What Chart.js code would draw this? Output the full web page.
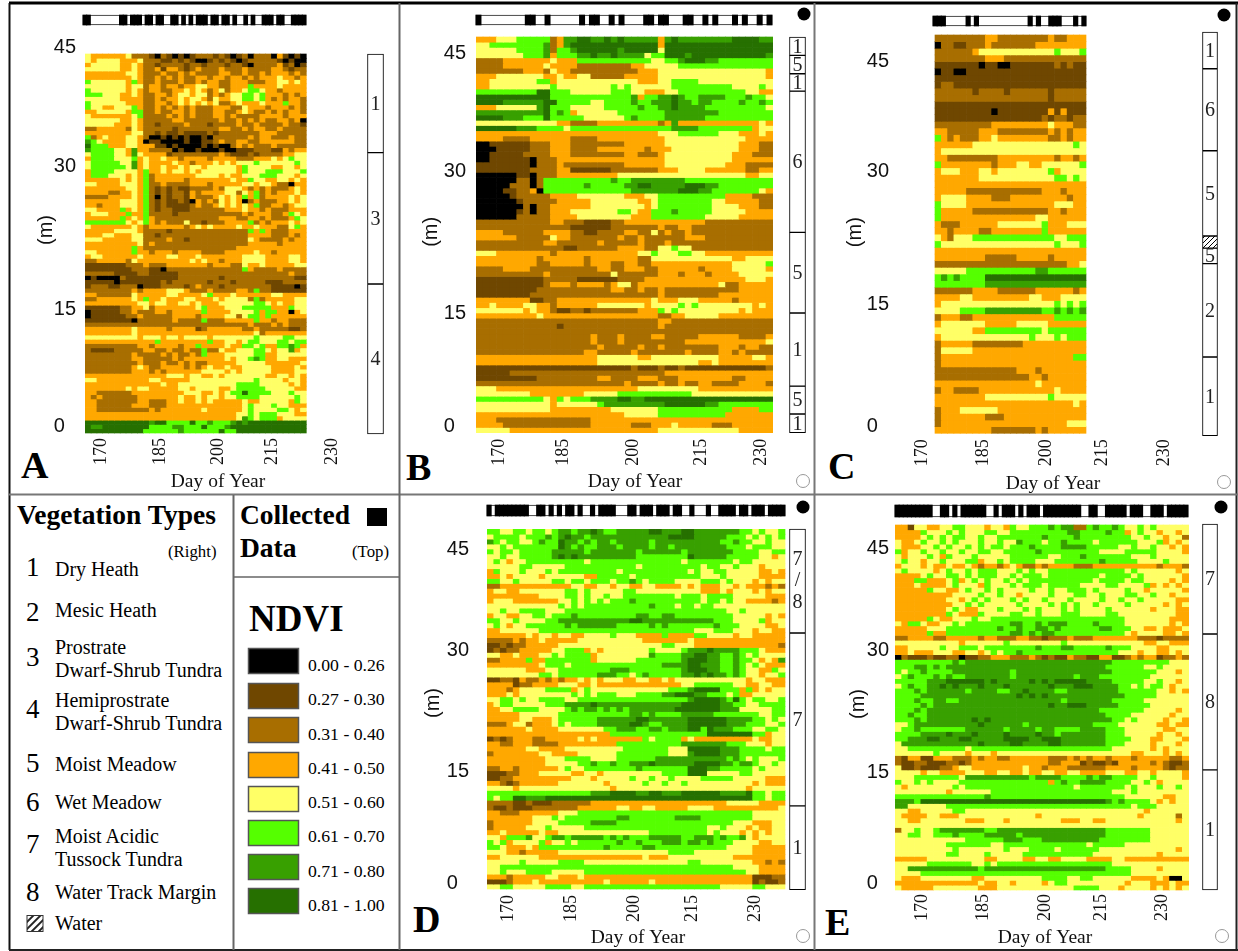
<!DOCTYPE html>
<html>
<head>
<meta charset="utf-8">
<title>NDVI by day of year</title>
<script src="https://cdn.jsdelivr.net/npm/chart.js@4"></script>
<style>
  html, body { margin: 0; padding: 0; background: #fff; }
  #page { position: relative; width: 1238px; height: 951px; overflow: hidden; }
  #page svg { position: absolute; left: 0; top: 0; }
  #page canvas { position: absolute; }
  svg text { font-family: "Liberation Serif", serif; fill: #000; }
</style>
</head>
<body>
<div id="page">
<svg id="frame" width="1238" height="951"></svg>
</div>
<script>
// NDVI classes, one colour per digit used in the rows below
const ndviRanges = ['0.00 - 0.26', '0.27 - 0.30', '0.31 - 0.40', '0.41 - 0.50', '0.51 - 0.60', '0.61 - 0.70', '0.71 - 0.80', '0.81 - 1.00'];
const ndviColors = ['#000000', '#6f4700', '#a86e00', '#ffa800', '#ffff66', '#55ff00', '#38a000', '#267000'];

const vegetationTypes = [
  ['1', ['Dry Heath']],
  ['2', ['Mesic Heath']],
  ['3', ['Prostrate', 'Dwarf-Shrub Tundra']],
  ['4', ['Hemiprostrate', 'Dwarf-Shrub Tundra']],
  ['5', ['Moist Meadow']],
  ['6', ['Wet Meadow']],
  ['7', ['Moist Acidic', 'Tussock Tundra']],
  ['8', ['Water Track Margin']]
];

const dayLabels = ['170', '185', '200', '215', '230'];
const metreLabels = ['0  ', '15', '30', '45'];

// rows run top to bottom of each panel
const rowsA = [
'43333334222102101012221210120222031010','43444433342221121210012121012222210100','34444433432212222122122212210222231201',
'44444433432231332123222322232222332122','33333334432223223232222332232232333232','33333333432232323223323323323233343323',
'54444443532232223223233223332223344343','44444443442332332334433223335333343333','54444443432332233434323423345543323333',
'55544433432233234434423234455453332323','44444433332232334344324334455453232332','54444443332233234343434223433343335332',
'54433444532232323232223332243332333232','33444443552232233232223322343223232332','43333333452222323232223323222233332333',
'44444433432222233222222322323232233230','44444333432212222322212222322322223221','22333332432222212222222332232332232222',
'33333333442212112111121222222233322222','52343334432001010100102222223233222322','65433334430110000100112322332233333322',
'75553334433311010000101002323222322222','65555443633222201001000100111222113233','45555443643333122222222321112122223344',
'35555444534334332333323333222333434544','45555544634333343323334343444544444454','45555554634334334344344444354444334434',
'35555444435334344343444444354445554445','35554443435233333334444343344455544434','33333343435233333233333334335443344343',
'44333344435223222233323333344344322033','33333334435212121122223244432323222343','33332233435212122132333344243523233343',
'22223333435202122132223434353523333434','33333344435212112103232434302322233434','33233344435212111123223434343522332344',
'44333353435212211122222233343323222333','34443335335222212222222222232333223543','33333353435322222222222333223323222354',
'55555554345323222422122233335232333434','43333333432333333234343333433433322453',
'33333444432222122222222222225353222333','33344333442212222222222222223333222323','44433333442222322122222222224322223233',
'33333333342322222222222222223333323333','33333333532222222222222222333333333333','44333333533233323333222233333433233333',
'34433333343333443334333333344443333443','22333332433333333343433233344443333443','11111112223222333333323332243343333344',
'11111111222110222222222222253222232222','22222111122111112222222222222222222322','01000021111111112222222122222222222211',
'11111011111112122222212221222221112222','12221122201112222123222122222222111101','22222222323333444322232222332522111111',
'33222222433333443333453334333333443333','22333333435334333443334344442523333344','33333333344344334434333444444554343344',
'11111122334233333334533344455555333544','01111122322233233333533334444535533034','01111112232222233332333344245535333333',
'11111111022222232222522233333533233222','22222222222222222222222222223222323222','33333333433333233331233333322322222112',
'33333333433333333333333333333423333333','44444444434443443444434444444544445544','33333333333353333333353344345544455455',
'22222222233233332335333343355453355653','21111222223322322322522433444554344634','22222222322223232232533344444553344444',
'22222222332222232333333343445653344333','22222222232223223232233333444443333334','22222222343223333232343343344444333343',
'22222222333232333333444434344444333344','33333333333333444344334344444443344343','44333333333443333344444444444544443443',
'33333333333334334444444444555544444343','33333334344333334434444334555554444433','33222222333333333444334345575555444544',
'32322222233333334334344344555544444454','33222222233222334334343333343344444354','33222222333222333333333333345444544333',
'33222222222323333333433333345444455434','33333333333333333333333333445455544433','33333333333333333333333333465455534444',
'77777777777677555575565556767777777777','76677777777555566555755567777777777777','77777777775555556555555755777777777777'
];

const rowsB = [
'33344455555236677667676666636766666666777766','44555555556236777777777777737777777777777777','44444455556255677777767777747777777777777777',
'44444445556355566766766664557776777777777776','22223333333433355555555555445567776655555555','22223333334333322222222334444455555555555555',
'22222223332433222222222233344444444444444443','33344444443343344222223333344444444444444443','33444444455344444444444433344555544444444444',
'33444444444544444444545444444555555555444454','55555555577555444444555443334455555555554433','77777777777555555555555635566765566665556554',
'77776666667755555445555655666766566555565565','33344444467555444445555565566766665555555554','66666666667565344444455555556666666655555555',
'77776665557555554444445655556666665555555555','44444444444433222233333333323633333333333343','77777766655554555555555555555666655555555344',
'33333333333333333333333333344455555544433343','33332222333333222233333333334444444444443333','00111111222333222222223333334444444444433322',
'00011111222333222233333332333444444444433322','00111112222333222222223322234444444444333222','00111111022233333333333333334444444444333333',
'11111111022232222222223333334444444443332222','11111111222233111111222222233344443333332233','00000011022233333333344444444444444444443344',
'00000022025555555555655666666665555555555555','00000222025555556555556677666667776655555555','00001122305555555555555666666677766555555543',
'00000122222333344444443334455555555553333222','00000012222233333444444433455555555443333322','00000002022333333444444443455555555444433322',
'00000012022333444444455433555655555444443333','00000022222333344444444333555555554444433333','22222222222332221111223333333333332222222222',
'22222222222222111111222222232233222222222222','33332222223333221122223322423223222222222222','33333322222433222222232232222223332222222222',
'22222222223322222232222232223222222222222222',
'22222222222221122222233332244544222222222222','44433333333233333333333344544455443333333333','33333333323333332333333322444444444444334444',
'33333333322333332333223322333333333333444445','22223333222222222233223332233333323333444443','22222222223222222222422222233323332333344444',
'11111111112222211111122223333333333333334443','11111111112333233332344233333333333342233333','11111111122222222222332232232222222222233333',
'11111111222222222222222222232222222233333333','33333333112233333333333333433344433333233333','33433334433233333344444443444454544444444343',
'44444443433211221222222233354544444444434333','33333333343333333333333333322334444433333333','22222222222222222222222222233222222222222222',
'22222222222212222222222222232222222222222222','22222222222222222222222222222222222222222222','22222222222222222322232222332222233333322223',
'22222222222222222322232222222223333333333334','22222222222222222232222232232222222233323322','22222222222222223322222322222223222233232222',
'33333333333333333344444433444444444433333443','33333333333333333344444444444444433433333333','11111111111111111111111211121121111111111112',
'11111222222222222222222222223333333333333333','11111111122222222233222233322233333333223333','22222222222222222222223222232232233222233332',
'44433333333333333333333344444444433333333333','44444444333333334444455555555555444444444444','55555555554354555666677667777777777777777777',
'44444444444344444456666666667777776655555555','44444444444333333333444444455555555555333355','33333333333333333333334444455555555553333333',
'33322222222222222333333333333333333333333333','33332222222222222333333222333433333222333333','44444333333333333333333333344444444444433333'
];

const rowsC = [
'222222223322222222322333','022112223222222233333333','222222344444444444454445','222222223332222222222222',
'111111101100111111121211','011001111111111111111111','111111111111111111111111','122111111111111111111111',
'222222122221222222122222','222222222222222222122222','111111111111111111111111','111111111011111111313111',
'111111111111111112122122','222222222333333333433322','332222233322222222323233','532322233433333333223233',
'333333444444444444444454','344444444444444444444444','332222222233333333323323','533333333233344334444445',
'344433344344444444534444','333333344444444444455454','333333333333333333333333','333332222222222223332333',
'344443333222333333333233','544443333333333333344433','533333222222222222332333','533333333333333344333333',
'322233333344444445333444','332333322333333335333333','432444555555555555544555','544444444444444444454445',
'333333333333333333333333','333333332222233333233333','222222222222222222222334','444445555555555566555555',
'565655557777777777777777','555555556666666666666666','222222333322222233333323','333344333333333443334444',
'344444444444444444454545','444455556666666665565656','233322333333333333355555','344444443333344444333333',
'444444335555555554555555','344444444444444544454555','233333222222223333333333','244444333333333333333333',
'233333333333333333333355','233333333333333333333333','222222222222233323333333','222222222222222332333333',
'333333333333333343333333','233222233333333333343333','333333334444444444544444','333333333333333333333343',
'233344444433333333333333','233333332223333333333333','233333333333333333333444','333333333222222232333333'
];

const rowsD = [
'5544554554566566765566666776667766666665545445','4555545556567665666666666666777766666555454545','6545544565576656566566666566666666665565544544',
'4454555555576565566656666566566666666555455544','5455455555666665666666656666665666666655554455','4454455555676766666666655555555766666555554434',
'4543445555555554555555555555554555555545544444','4444455444445555555555545555555554554454443444','3544454445455555555545555555555454455444443343',
'3343444434444443355555455555555554445444443333','5544544444554554555455654555544445554544434344','2233333333333443344344334433334343334434333232',
'3443344444445545444445544444444443334344434344','3333333344445545445445555555545554555544444333','3444333333344545454555655555555554554544333323',
'4444444444454545555555555655545545544444444444','4454455554445555555555555555555555555445444444','3443344554555655555555566556655555555544444343',
'5544544445566666666666776666666666655544445344','4543445555556566666655555656555555565554444334','3344444455555555555555555555555544455544434433',
'3333334344344334444544433335333355444434433333','2222323343333344444444443333333433333333333333','1121223333344444444444444445544433333333333332',
'1212233333445553434444444544445666766665554333','4433433344545555344444444655556677665565454444','2233335335555555344444455555556777665565543436',
'3333333345554555555555555556666776665565454333','4444443334455555555666555555556777665565443354','4444444455455555566655456555556676766565443445',
'1122132232323343434443344334344444444444344333','3333122333344433433333333333334455555544334433','3332344445555345444444444444555677775553534344',
'3334344444444545455544455556677766555453344444','4455454455554455555555555555555677776575455445','3455444445556666766666666666667777776655445555',
'3344555544445656656565666666677777776664444455','3333344444455555555555665655556666655555554455',
'3333344333455555566666677666666777777666655454','2223442333454555566666776556666777777666555445','3333334333344444445566655665666775766655544554',
'3333333333333333333555555555555555777777755344','1212333223333343433333335455553433333333343344','3322333222233333333355555555556666666555444344',
'3333334433334444444445555555444777776665555455','2333333344333344444455555555444677776665555555','3333333334445555444455555566666666666565454445',
'3333333334444455655655666766666677776656654454','2233233333345445555555565555555777665555545444','1112233344444334434444444445555777444445544444',
'1122333333333444344444544544544445555544444333','3321233333344444443444445445445444444444434333','4444344444444444444344444444444444444444344444',
'5555555555555555666777766776667777776666755455','5455776667777777777777777777777777777777755455','2222112111222222333333333333333333333444443333',
'2112111222222233333344334433333444433333333334','3322233333344455555555555555555555555555544444','3333333444545555555566555555566665555555544444',
'2333333444455555666655555555555555555544433344','2333334445444445555555555555555555445444343344','3343333343344444444444444555555555454443434344',
'4435556445665666665656555666665566656556434444','5453444453445455555565565556665665655544443344','5543334355555555556555556655555555555444433333',
'4443323333344444444444444444555544444444433333','3344444433333333333333334333444444444433333333','4444454444455554444444444444444554444444433232',
'4455555555555555555555555555555555555544443333','4454445555444445555555555555555555555555443333','3332333334433343333333333333333333333333311122',
'1112333433333333334333333433333333333333312112','4455444445555445555555555555555555554444455444'
];

const rowsE = [
'3314433445544434435445556566225655654454544444','3333544454544455445555555556655556553454434434','3333454545544544555555565555655555555445443442',
'4334544545444544544655545565555455555544453434','4333445454454545545556555566665555544544544343','5344544544544554455555655555555544445555544443',
'4344454354445444445555554455565555555444544444','4544344544455344545555444555555565555544445444','3444343343343233234322323333222333333333323332',
'4544443454454555444545445555555555554544444434','3333454455454555445455545555555545555454444443','3335533345345454454545555555555455554554444343',
'3334333345444354445455545555544445544445343434','3333354433454454544445445445554544445443444443','3333333334444544544344445444554454445544544344',
'3333333344345454445454454445444454454454444433','3333333334454544444544445454544544445444443434','3333333345433444544454544454544445444444344433',
'3333333354333544445544544455544445544444444433','3333354334445445555555555555555555554444444333','4355433445455555556655656665555655554444444343',
'3333344455555555655655665655555566555443343334','3333353355555555556656566555555555554344443343','2233332233333233222332212223222333333322212222',
'4444444444344444454444444454444444444443344333','3344444544555455555555655566555556555444433444','3343334443344345455655555555555555544434433434',
'0211121122011223332223212113221133112323312232','5555555556566666666666666666666666555555555444','5556656566666666666666666666666665555554454444',
'5455655556666666665666666666666666555555544434','4565556565566666665666666666566655555555444444','5555566677777767666667676777776666555554454434',
'4565566767666766676666667666777666655454554344','5556566666656666556676666556666666655555544343','5555666666666666666767676666666666665555544444',
'5556556655666666666666666656666666555554444444','5555656666666666666666667667776666655555444444','5556566666666666666666666666666655555554444434',
'5565566666666666666666666666666665555444444344','5556566666667676666666666666666666554544443443','4456666666666766666656666666666555544444433433',
'4556555555566666656666566555566665554444443344','5555666676667666676666766566666665554444434434','5566677666776666677776677766666665555444334443',
'4666666666666766667766667766666665554444344434','4455555555545555555555555555555555444444343444','4444445444434443444444444444444444444334443434',
'2133113332223233223333332223232332333233333223','2112211122123333333333332233312112133333232112','4112111223443333333343323332222223333233332122',
'4444344333344433443343344334433334443344344443','4445555555466666666665666655556566555544544443','5445454444555555555555553565566665555445434444',
'4344444445455555555555555555455555554544454454','4444444434444445555555555555555555444544444444','5555555555555565555555555555555555554444443344',
'6665777777777777777777777777777776565555434344','6644444455555555555555555555555555555455544444','4433444445544444444444444444444444444443444444',
'4333344333444444444444344444444444444434444424','4433444444433344434444444433344334444444444434','4444444444444444444444444444444444444444444444',
'2445445666666655666666666666666665555555444444','4455445556555566666566666666666665555555444444','4444444444455555566655566666666655555555444444',
'4444444455555554455555555555554555554444444444','4444444445444444454445555455555544444444444434','4444444455444454444455555555555444444444434444',
'3333344444444433444433443344443333443333333333','4444455555554454555555555555555555444444444444','4466666666666566666666666666666665555444434444',
'4444555555555555555555555555555555555444444444','4333444444443344444444455554455444444333343004','3333333333333433443444434554444444443444333433',
'4333334444444333444444444444555544434444343434'
];

// days with collected data, left to right along the top bar
const collectedA = '110000000011011101101100110101011101101101001010011101100' + '1111';
const collectedB = '100000000011001000000101100101000011011000110010100010100101';
const collectedC = '1110000010100000000000010100111000101';
const collectedD = '101111111100110101011010010111100011011101110110010001001111011011101111';
const collectedE = '11111111100110101111110010111010111011111111100110011111011100111011111';

// vegetation strip, edges in metres from the bottom, labels for the segments between them
const vegEdgesA = [-0.1, 17.7, 33.3, 45];
const vegLabelsA = ['4', '3', '1'];
const vegEdgesB = [0, 2.25, 5.6, 14.4, 24.1, 41.1, 43.2, 45.4, 47.6];
const vegLabelsB = ['1', '5', '1', '5', '6', '1', '5', '1'];
const vegEdgesC = [-0.3, 9.4, 20.9, 22.8, 24.3, 34.8, 44.9, 49.4];
const vegLabelsC = ['1', '2', '5', 'water', '5', '6', '1'];
const vegEdgesD = [-0.1, 11.2, 34.5, 48.5];
const vegLabelsD = ['1', '7', '7/8'];
const vegEdgesE = [0, 16.2, 34.5, 49.3];
const vegLabelsE = ['1', '8', '7'];

// where the printed tick labels actually sit, the originals are not evenly spaced
const dayTickAtA = [170, 185.1, 200, 213.9, 229.3];
const dayTickAtB = [170, 184.5, 200.4, 215.9, 229.5];
const dayTickAtC = [170, 184.9, 200.3, 214, 229.1];
const dayTickAtD = [170, 185.3, 200.5, 214.6, 229.8];
const dayTickAtE = [170, 184.9, 200, 213.7, 228.5];
const metreTickAtA = [0.75, 14.7, 31.7, 45.8];
const metreTickAtB = [0.72, 14.4, 31.4, 45.6];
const metreTickAtC = [0.9, 15.9, 32.3, 45.8];
const metreTickAtD = [0.77, 15.8, 32.2, 45.8];
const metreTickAtE = [0.94, 15.9, 32.3, 46];

const serif = '"Liberation Serif", serif';
const sans = '"Liberation Sans", sans-serif';

function hatchPattern() {
  let c = document.createElement('canvas');
  c.width = 5; c.height = 5;
  let g = c.getContext('2d');
  g.fillStyle = '#fff';
  g.fillRect(0, 0, 5, 5);
  g.strokeStyle = '#000';
  g.lineWidth = 1;
  g.beginPath();
  g.moveTo(-1, 6); g.lineTo(6, -1);
  g.moveTo(-1, 1); g.lineTo(1, -1);
  g.moveTo(4, 6); g.lineTo(6, 4);
  g.stroke();
  return g.createPattern(c, 'repeat');
}

function drawPanel(p) {
  let canvas = document.createElement('canvas');
  canvas.width = p.box[2];
  canvas.height = p.box[3];
  canvas.style.left = p.box[0] + 'px';
  canvas.style.top = p.box[1] + 'px';
  document.getElementById('page').appendChild(canvas);

  let dayOf = px => p.leftDay + (px - p.heatL) / p.pxPerDay;
  let metreOf = py => (p.heatB - py) / p.pxPerM;
  let rightDay = dayOf(p.heatR);
  let topMetre = metreOf(p.heatT);
  let heatW = p.heatR - p.heatL;

  let datasets = [];

  // vegetation strip on the right
  let vegX = dayOf((p.vegL + p.vegR) / 2);
  let vegBars = [], vegFill = [];
  p.vegLabels.forEach((label, i) => {
    vegBars.push({ x: vegX, y: [p.vegEdges[i], p.vegEdges[i + 1]] });
    vegFill.push(label === 'water' ? hatchPattern() : '#fff');
  });
  datasets.push({ label: 'Vegetation type', data: vegBars, backgroundColor: vegFill, borderColor: '#000', borderWidth: 1,
    borderSkipped: false, barThickness: p.vegR - p.vegL, grouped: false, clip: false });

  // collected data bar on the top
  let stripLo = metreOf(p.stripB), stripHi = metreOf(p.stripT);
  let stripDayL = dayOf(p.stripL), stripDayR = dayOf(p.stripR);
  let step = (stripDayR - stripDayL) / p.collected.length;
  let marks = [];
  for (let i = 0; i < p.collected.length; i++) {
    if (p.collected[i] === '1') marks.push({ x: stripDayL + (i + 0.5) * step, y: [stripLo, stripHi] });
  }
  datasets.push({ label: 'Collected data', data: marks, backgroundColor: '#000',
    barThickness: step * p.pxPerDay + 0.4, grouped: false, clip: false });
  datasets.push({ label: 'Collected frame', data: [{ x: (stripDayL + stripDayR) / 2, y: [stripLo, stripHi] }], backgroundColor: '#fff',
    borderColor: '#222', borderWidth: 1, borderSkipped: false, barThickness: p.stripR - p.stripL, grouped: false, clip: false });

  // one dataset per row of the NDVI grid
  let rowH = topMetre / p.rows.length;
  p.rows.forEach((row, r) => {
    let w = (rightDay - p.leftDay) / row.length;
    let lo = topMetre - (r + 1) * rowH;
    let cells = [], colors = [];
    for (let i = 0; i < row.length; i++) {
      cells.push({ x: p.leftDay + (i + 0.5) * w, y: [lo, lo + rowH] });
      colors.push(ndviColors[Number(row[i])]);
    }
    datasets.push({ label: 'row ' + r, data: cells, backgroundColor: colors, barThickness: heatW / row.length,
      grouped: false, clip: false });
  });

  let titleLine = 24;
  let xTitleLine = 23.4;
  let scaleLeft = p.mX - titleLine / 2;
  let scaleBottom = p.titleY + xTitleLine / 2;

  let vegText = {
    id: 'vegText',
    afterDatasetsDraw(chart) {
      let ctx = chart.ctx;
      let y = chart.scales.y;
      ctx.save();
      ctx.fillStyle = '#222';
      ctx.font = '20px ' + serif;
      ctx.textAlign = 'center';
      ctx.textBaseline = 'middle';
      let cx = (p.vegL + p.vegR) / 2 - p.box[0];
      p.vegLabels.forEach((label, i) => {
        if (label === 'water') return;
        let mid = y.getPixelForValue((p.vegEdges[i] + p.vegEdges[i + 1]) / 2);
        if (label === '7/8') {
          ctx.fillText('7', cx, mid - 21);
          ctx.fillText('/', cx, mid);
          ctx.fillText('8', cx, mid + 22);
        } else {
          ctx.fillText(label, cx, mid + 1);
        }
      });
      ctx.restore();
    }
  };

  new Chart(canvas, {
    type: 'bar',
    plugins: [vegText],
    data: { datasets: datasets },
    options: {
      responsive: false,
      animation: false,
      events: [],
      layout: { padding: {
        left: scaleLeft - p.box[0],
        top: p.plotT - p.box[1],
        right: p.box[0] + p.box[2] - p.plotR,
        bottom: p.box[1] + p.box[3] - scaleBottom
      } },
      plugins: { legend: { display: false }, tooltip: { enabled: false } },
      scales: {
        x: {
          type: 'linear',
          offset: false,
          min: p.leftDay,
          max: dayOf(p.plotR),
          grid: { display: false, drawTicks: false },
          border: { display: false },
          afterBuildTicks: s => { s.ticks = p.dayTickAt.map(v => ({ value: v })); },
          afterFit: s => { s.height = scaleBottom - p.heatB; },
          ticks: {
            autoSkip: false, minRotation: 90, maxRotation: 90, padding: p.xPad, color: '#111',
            font: { family: serif, size: 18 },
            callback: (v, i) => dayLabels[i]
          },
          title: { display: true, text: 'Day of Year', color: '#111', padding: 0, font: { family: serif, size: 19.5, lineHeight: 1.2 } }
        },
        y: {
          type: 'linear',
          min: 0,
          max: metreOf(p.plotT),
          grid: { display: false, drawTicks: false },
          border: { display: false },
          afterBuildTicks: s => { s.ticks = p.metreTickAt.map(v => ({ value: v })); },
          // big tick padding would otherwise push the plot area down
          afterFit: s => { s.width = p.heatL - scaleLeft; s.paddingTop = 0; s.paddingBottom = 0; },
          ticks: {
            autoSkip: false, padding: p.heatL - p.tickR, color: '#111',
            font: { family: sans, size: 20 },
            callback: (v, i) => metreLabels[i]
          },
          title: { display: true, text: '(m)', color: '#111', padding: 0, font: { family: sans, size: 20, lineHeight: 1.2 } }
        }
      }
    }
  });
}

drawPanel({ box: [10, 5, 389, 488], heatL: 85.3, heatR: 306.3, heatT: 54, heatB: 433, plotT: 27, plotR: 350.7,
  leftDay: 166, pxPerDay: 3.9, pxPerM: 8.42, tickR: 76, mX: 46, titleY: 482, xPad: 5,
  stripL: 83, stripR: 306, stripT: 15, stripB: 25, vegL: 367.5, vegR: 383.5,
  rows: rowsA, collected: collectedA, vegEdges: vegEdgesA, vegLabels: vegLabelsA, dayTickAt: dayTickAtA, metreTickAt: metreTickAtA });

drawPanel({ box: [401, 5, 412, 488], heatL: 476.3, heatR: 772.7, heatT: 37, heatB: 432.7, plotT: 31, plotR: 793.7,
  leftDay: 164.8, pxPerDay: 4.4, pxPerM: 8.31, tickR: 466, mX: 431, titleY: 482, xPad: 6,
  stripL: 476, stripR: 772, stripT: 15, stripB: 25, vegL: 789.5, vegR: 805.5,
  rows: rowsB, collected: collectedB, vegEdges: vegEdgesB, vegLabels: vegLabelsB, dayTickAt: dayTickAtB, metreTickAt: metreTickAtB });

drawPanel({ box: [816, 5, 419, 488], heatL: 935, heatR: 1086, heatT: 35, heatB: 433.3, plotT: 31, plotR: 1171,
  leftDay: 173.2, pxPerDay: 4.1, pxPerM: 8.12, tickR: 889, mX: 855, titleY: 484, xPad: 6,
  stripL: 933, stripR: 1086, stripT: 16, stripB: 26, vegL: 1202.5, vegR: 1217.5,
  rows: rowsC, collected: collectedC, vegEdges: vegEdgesC, vegLabels: vegLabelsC, dayTickAt: dayTickAtC, metreTickAt: metreTickAtC });

drawPanel({ box: [401, 496, 412, 453], heatL: 487.3, heatR: 785, heatT: 529.3, heatB: 889, plotT: 517, plotR: 788.7,
  leftDay: 165, pxPerDay: 4.13, pxPerM: 7.42, tickR: 469, mX: 433, titleY: 938, xPad: 6,
  stripL: 487, stripR: 785, stripT: 505, stripB: 516, vegL: 789.5, vegR: 805.5,
  rows: rowsD, collected: collectedD, vegEdges: vegEdgesD, vegLabels: vegLabelsD, dayTickAt: dayTickAtD, metreTickAt: metreTickAtD });

drawPanel({ box: [816, 496, 419, 453], heatL: 895.3, heatR: 1188.7, heatT: 525, heatB: 890, plotT: 518, plotR: 1194.7,
  leftDay: 163.5, pxPerDay: 4.1, pxPerM: 7.42, tickR: 889, mX: 858, titleY: 938, xPad: 4,
  stripL: 895, stripR: 1188, stripT: 505, stripB: 517, vegL: 1202.5, vegR: 1217.5,
  rows: rowsE, collected: collectedE, vegEdges: vegEdgesE, vegLabels: vegLabelsE, dayTickAt: dayTickAtE, metreTickAt: metreTickAtE });

// frame lines, legend tables and panel letters
let svg = '';
let line = (x1, y1, x2, y2, color, w) => { svg += `<line x1="${x1}" y1="${y1}" x2="${x2}" y2="${y2}" stroke="${color}" stroke-width="${w}"/>`; };
let text = (x, y, size, str, bold) => { svg += `<text x="${x}" y="${y}" font-size="${size}"${bold ? ' font-weight="bold"' : ''}>${str}</text>`; };

svg += '<defs><pattern id="hatch" width="5" height="5" patternUnits="userSpaceOnUse" patternTransform="rotate(45)"><rect width="5" height="5" fill="#fff"/><rect width="2" height="5" fill="#222"/></pattern></defs>';

line(9, 3, 1238, 3, '#000', 3);
line(9.5, 3, 9.5, 950, '#111', 2);
line(1236.5, 3, 1236.5, 950, '#222', 2);
line(9, 950, 1238, 950, '#222', 2);
line(9, 494.5, 1238, 494.5, '#777', 2);
line(399.5, 3, 399.5, 950, '#666', 2);
line(814.5, 3, 814.5, 950, '#777', 2);
line(233.5, 495, 233.5, 950, '#666', 2);
line(233, 577, 399, 577, '#666', 1.5);

let letters = [['A', 21, 478], ['B', 406, 480], ['C', 828, 479], ['D', 413, 932], ['E', 825, 935]];
letters.forEach(l => text(l[1], l[2], 38, l[0], true));

let dots = [[804, 14], [1224, 15], [803, 507], [1221, 507]];
dots.forEach(d => { svg += `<circle cx="${d[0]}" cy="${d[1]}" r="6.5" fill="#000"/>`; });
let rings = [[803, 481], [1224, 482], [803, 936], [1222, 936]];
rings.forEach(d => { svg += `<circle cx="${d[0]}" cy="${d[1]}" r="6.5" fill="#fff" stroke="#999" stroke-width="1"/>`; });

text(17, 524, 27.5, 'Vegetation Types', true);
text(168, 557, 16.8, '(Right)');
text(240, 524, 27.5, 'Collected', true);
text(240, 557, 27.5, 'Data', true);
text(352, 557, 16.8, '(Top)');
svg += '<rect x="367" y="508" width="20" height="18" fill="#000"/>';

let numberY = [576, 621, 666, 718, 772, 811, 853, 901];
let nameY = [[576], [617], [654, 677], [707, 730], [771], [809], [843, 866], [899]];
vegetationTypes.forEach((v, i) => {
  text(26, numberY[i], 27, v[0]);
  v[1].forEach((s, k) => text(55, nameY[i][k], 20, s));
});
svg += '<rect x="27" y="915.5" width="16" height="16" fill="url(#hatch)" stroke="#333" stroke-width="1"/>';
text(55, 930, 20, 'Water');

text(249, 631, 37, 'NDVI', true);
let swatchY = [648, 683, 717, 752, 786, 820, 854, 888];
let rangeY = [671, 705, 740, 774, 808, 842, 877, 911];
ndviRanges.forEach((r, i) => {
  svg += `<rect x="248.5" y="${swatchY[i] + 0.5}" width="50" height="25" fill="${ndviColors[i]}" stroke="#555" stroke-width="1.5"/>`;
  text(308, rangeY[i], 17.7, r);
});
document.getElementById('frame').innerHTML = svg;
</script>
</body>
</html>
